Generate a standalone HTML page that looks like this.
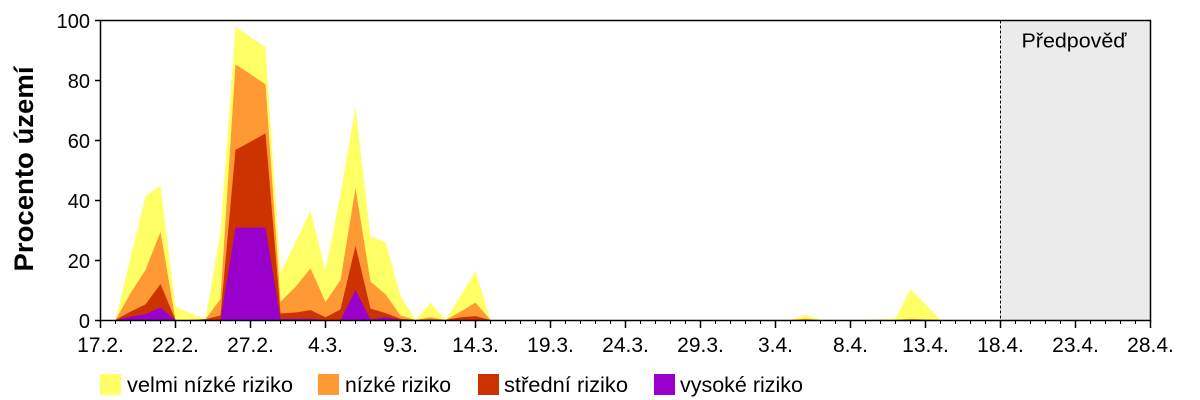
<!DOCTYPE html>
<html>
<head>
<meta charset="utf-8">
<style>
html,body{margin:0;padding:0;background:#fff;}
svg{display:block;}
text{font-family:"Liberation Sans",sans-serif;fill:#000;}
</style>
</head>
<body>
<svg width="1200" height="400" viewBox="0 0 1200 400" xmlns="http://www.w3.org/2000/svg">
  <rect x="0" y="0" width="1200" height="400" fill="#fff"/>
  <!-- forecast region -->
  <rect x="1000.5" y="20.5" width="150" height="300" fill="#ebebeb"/>
  <line x1="1000.5" y1="20.5" x2="1000.5" y2="320" stroke="#000" stroke-width="1" stroke-dasharray="3,2"/>
  <text x="1021.5" y="47.5" font-size="20" textLength="105" lengthAdjust="spacingAndGlyphs">Předpověď</text>

  <!-- yellow -->
  <polygon fill="#ffff66" points="100.5,320 115.5,320 130.5,257.9 145.5,196.1 160.5,185.6 175.5,306.8 190.5,313.4 205.5,319.1 220.5,231.8 235.5,26.6 250.5,37.1 265.5,47.3 280.5,273.5 295.5,242 310.5,210.8 325.5,270.5 340.5,194 355.5,106.7 370.5,236.6 385.5,242 400.5,296 415.5,320 430.5,302.6 445.5,320 460.5,296 475.5,271.1 490.5,320"/>
  <polygon fill="#ffff66" points="790.5,320 805.5,314.9 820.5,320"/>
  <polygon fill="#ffff66" points="865.5,320 880.5,319.4 895.5,318.5 910.5,289.1 925.5,304.4 940.5,320"/>
  <!-- orange -->
  <polygon fill="#ff9933" points="100.5,320 115.5,320 130.5,293.3 145.5,269.9 160.5,231.8 175.5,320 190.5,320 205.5,319.1 220.5,299 235.5,64.4 250.5,74.3 265.5,84.2 280.5,301.7 295.5,287 310.5,268.4 325.5,302 340.5,280.1 355.5,188.3 370.5,281.6 385.5,294.2 400.5,315.5 415.5,320 430.5,317.3 445.5,320 460.5,311.6 475.5,302.6 490.5,320"/>
  <polygon fill="#ff9933" points="790.5,320 805.5,318.8 820.5,320"/>
  <polygon fill="#ff9933" points="895.5,320 910.5,318.8 925.5,319.4 940.5,320"/>
  <!-- red -->
  <polygon fill="#cc3300" points="100.5,320 115.5,320 130.5,311.6 145.5,304.4 160.5,284 175.5,320 190.5,320 205.5,319.1 220.5,315.5 235.5,149.9 250.5,141.8 265.5,133.4 280.5,313.4 295.5,312.5 310.5,310.1 325.5,317.3 340.5,309.5 355.5,245.9 370.5,308.6 385.5,313.1 400.5,318.8 415.5,320 430.5,319.4 445.5,320 460.5,317.3 475.5,316.1 490.5,320"/>
  <!-- purple -->
  <polygon fill="#9900cc" points="100.5,320 115.5,320 130.5,316.7 145.5,314.3 160.5,307.4 175.5,320 220.5,320 235.5,227.6 250.5,227.6 265.5,227.6 280.5,319.1 295.5,318.8 310.5,318.8 325.5,320 340.5,320 355.5,290 370.5,319.4 385.5,317.3 400.5,320"/>

  <!-- frame -->
  <rect x="100.5" y="20.5" width="1050" height="300" fill="none" stroke="#000" stroke-width="1.5"/>

  <!-- y ticks & labels -->
  <g stroke="#000" stroke-width="1.5">
    <line x1="95" y1="320.5" x2="100.5" y2="320.5"/>
    <line x1="95" y1="260.5" x2="100.5" y2="260.5"/>
    <line x1="95" y1="200.5" x2="100.5" y2="200.5"/>
    <line x1="95" y1="140.5" x2="100.5" y2="140.5"/>
    <line x1="95" y1="80.5" x2="100.5" y2="80.5"/>
    <line x1="95" y1="20.5" x2="100.5" y2="20.5"/>
  </g>
  <g font-size="20" text-anchor="end">
    <text x="90" y="328">0</text>
    <text x="90" y="268">20</text>
    <text x="90" y="208">40</text>
    <text x="90" y="148">60</text>
    <text x="90" y="88">80</text>
    <text x="90" y="28">100</text>
  </g>

  <!-- y title -->
  <text transform="translate(33,169) rotate(-90)" x="0" y="0" text-anchor="middle" font-size="27" font-weight="bold" textLength="205" lengthAdjust="spacingAndGlyphs">Procento území</text>

  <!-- x ticks -->
  <g stroke="#000" stroke-width="1">
    <path d="M115.5 320v4M130.5 320v4M145.5 320v4M160.5 320v4M190.5 320v4M205.5 320v4M220.5 320v4M235.5 320v4M265.5 320v4M280.5 320v4M295.5 320v4M310.5 320v4M340.5 320v4M355.5 320v4M370.5 320v4M385.5 320v4M415.5 320v4M430.5 320v4M445.5 320v4M460.5 320v4M490.5 320v4M505.5 320v4M520.5 320v4M535.5 320v4M565.5 320v4M580.5 320v4M595.5 320v4M610.5 320v4M640.5 320v4M655.5 320v4M670.5 320v4M685.5 320v4M715.5 320v4M730.5 320v4M745.5 320v4M760.5 320v4M790.5 320v4M805.5 320v4M820.5 320v4M835.5 320v4M865.5 320v4M880.5 320v4M895.5 320v4M910.5 320v4M940.5 320v4M955.5 320v4M970.5 320v4M985.5 320v4M1015.5 320v4M1030.5 320v4M1045.5 320v4M1060.5 320v4M1090.5 320v4M1105.5 320v4M1120.5 320v4M1135.5 320v4"/>
    <path stroke-width="1.5" d="M100.5 320v8M175.5 320v8M250.5 320v8M325.5 320v8M400.5 320v8M475.5 320v8M550.5 320v8M625.5 320v8M700.5 320v8M775.5 320v8M850.5 320v8M925.5 320v8M1000.5 320v8M1075.5 320v8M1150.5 320v8"/>
  </g>
  <!-- x labels -->
  <g font-size="21" text-anchor="middle">
    <text x="100.5" y="352">17.2.</text>
    <text x="175.5" y="352">22.2.</text>
    <text x="250.5" y="352">27.2.</text>
    <text x="325.5" y="352">4.3.</text>
    <text x="400.5" y="352">9.3.</text>
    <text x="475.5" y="352">14.3.</text>
    <text x="550.5" y="352">19.3.</text>
    <text x="625.5" y="352">24.3.</text>
    <text x="700.5" y="352">29.3.</text>
    <text x="775.5" y="352">3.4.</text>
    <text x="850.5" y="352">8.4.</text>
    <text x="925.5" y="352">13.4.</text>
    <text x="1000.5" y="352">18.4.</text>
    <text x="1075.5" y="352">23.4.</text>
    <text x="1150.5" y="352">28.4.</text>
  </g>

  <!-- legend -->
  <rect x="100" y="374" width="21" height="21" fill="#ffff66"/>
  <text x="127" y="392" font-size="21" textLength="166" lengthAdjust="spacingAndGlyphs">velmi nízké riziko</text>
  <rect x="318" y="374" width="21" height="21" fill="#ff9933"/>
  <text x="345" y="392" font-size="21" textLength="106" lengthAdjust="spacingAndGlyphs">nízké riziko</text>
  <rect x="478" y="374" width="21" height="21" fill="#cc3300"/>
  <text x="504" y="392" font-size="21" textLength="124" lengthAdjust="spacingAndGlyphs">střední riziko</text>
  <rect x="654" y="374" width="21" height="21" fill="#9900cc"/>
  <text x="680" y="392" font-size="21" textLength="123" lengthAdjust="spacingAndGlyphs">vysoké riziko</text>
</svg>
</body>
</html>
